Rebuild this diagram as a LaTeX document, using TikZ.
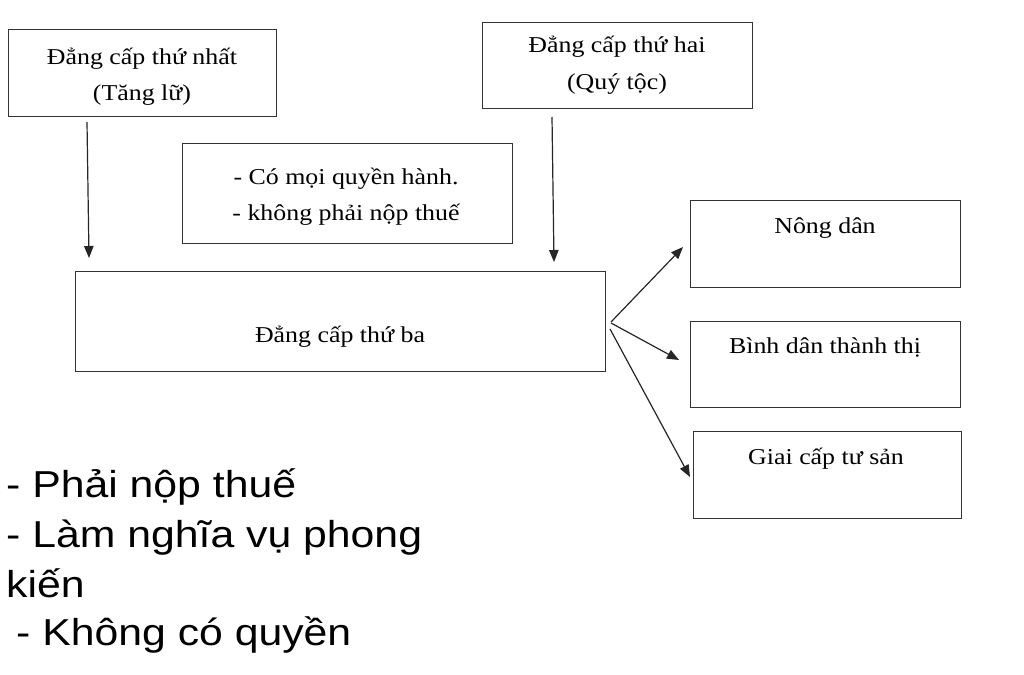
\documentclass[tikz,border=0pt]{standalone}
\usepackage{fontspec}
\usetikzlibrary{arrows.meta}
\newfontfamily\tnrfont[FakeStretch=1.14]{Liberation Serif}
\newfontfamily\arifont[FakeStretch=1.14]{Liberation Sans}
\begin{document}
\begin{tikzpicture}[x=1pt,y=-1pt,
  boxstyle/.style={draw=black!80,line width=1.3pt,rectangle,inner sep=0pt,anchor=north west},
  serif/.style={font=\tnrfont\fontsize{22.7}{27}\selectfont,inner sep=0pt,anchor=base,text=black},
  bigsans/.style={font=\arifont\fontsize{37.5}{45}\selectfont,inner sep=0pt,anchor=base west,text=black},
  arr/.style={draw=black!85,line width=1.2pt,-{Triangle[length=12pt,width=9.5pt]}}]
\useasboundingbox[fill=white] (0,0) rectangle (1024,674);
% boxes
\node[boxstyle,minimum width=268pt,minimum height=87pt] (b1) at (8,29) {};
\node[boxstyle,minimum width=270pt,minimum height=86pt] (b2) at (482,22) {};
\node[boxstyle,minimum width=330pt,minimum height=100pt] (info) at (182,143) {};
\node[boxstyle,minimum width=530pt,minimum height=100pt] (main) at (75,271) {};
\node[boxstyle,minimum width=270pt,minimum height=87pt] (nd) at (690,200) {};
\node[boxstyle,minimum width=270pt,minimum height=86pt] (bd) at (690,321) {};
\node[boxstyle,minimum width=268pt,minimum height=87pt] (gc) at (693,431) {};
% texts
\node[serif] (b1a) at (142,65) {Đẳng cấp thứ nhất};
\node[serif] (b1b) at (142,100) {(Tăng lữ)};
\node[serif] (b2a) at (617,53) {Đẳng cấp thứ hai};
\node[serif] (b2b) at (617,90) {(Quý tộc)};
\node[serif] (infoa) at (346,184) {- Có mọi quyền hành.};
\node[serif] (infob) at (346,220) {- không phải nộp thuế};
\node[serif] (maint) at (340,342) {Đẳng cấp thứ ba};
\node[serif] (ndt) at (825,233) {Nông dân};
\node[serif] (bdt) at (825,353) {Bình dân thành thị};
\node[serif] (gct) at (826,464) {Giai cấp tư sản};
\node[bigsans] (t1) at (6,497) {- Phải nộp thuế};
\node[bigsans] (t2) at (6,547) {- Làm nghĩa vụ phong};
\node[bigsans] (t3) at (6,597) {kiến};
\node[bigsans] (t4) at (16,645) {- Không có quyền};
% arrow end points
\coordinate (a1s) at (87,122); \coordinate (a1e) at (89,258);
\coordinate (a2s) at (552,117); \coordinate (a2e) at (554,262);
\coordinate (a3s) at (611,322); \coordinate (a3e) at (683,247);
\coordinate (a4s) at (611,323); \coordinate (a4e) at (679,360);
\coordinate (a5s) at (610,329); \coordinate (a5e) at (690,477);
\draw[arr] (a1s) -- (a1e);
\draw[arr] (a2s) -- (a2e);
\draw[arr] (a3s) -- (a3e);
\draw[arr] (a4s) -- (a4e);
\draw[arr] (a5s) -- (a5e);
\end{tikzpicture}
\end{document}
